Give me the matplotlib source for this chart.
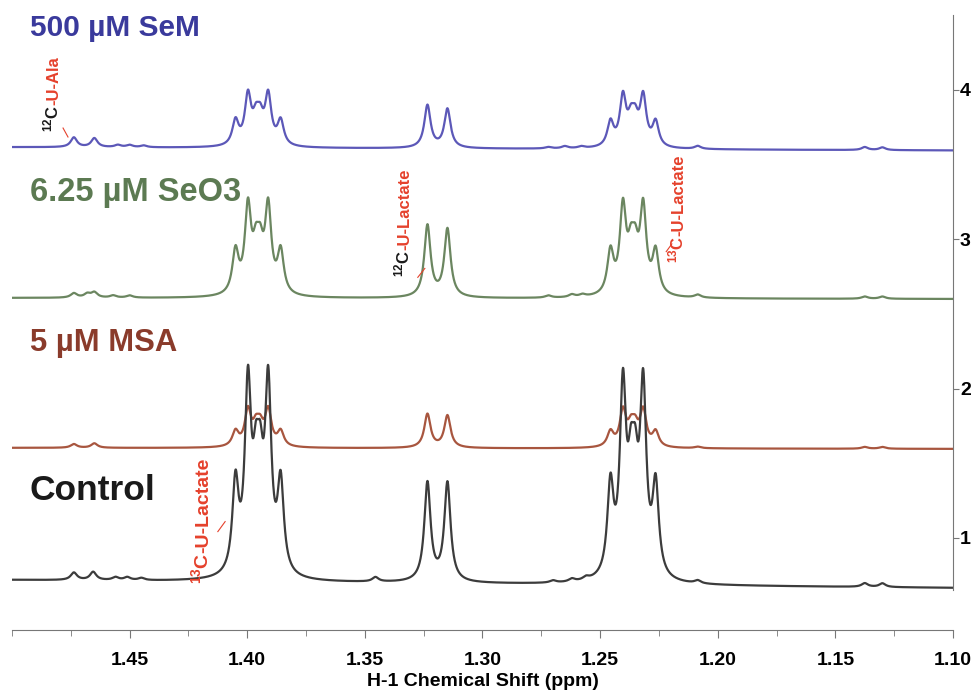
import numpy as np
import matplotlib.pyplot as plt
from matplotlib.ticker import MultipleLocator

plt.rcParams['font.family'] = ['Liberation Sans', 'DejaVu Sans']
plt.rcParams['mathtext.fontset'] = 'custom'
plt.rcParams['mathtext.bf'] = 'Liberation Sans:bold'
plt.rcParams['mathtext.rm'] = 'Liberation Sans:bold'
plt.rcParams['mathtext.default'] = 'bf'

# samples, bottom to top
samples = ['Control', '5 µM MSA', '6.25 µM SeO3', '500 µM SeM']
line_colors = ['#3c3c3c', '#a8563f', '#6b8660', '#5c58b8']
text_colors = ['#1a1a1a', '#8a3b2b', '#5c7a52', '#3a3a9c']
label_y = [1.32, 2.305, 3.31, 4.415]
label_size = [25.5, 22.3, 23.5, 21.5]

# baseline offset at the left (1.50 ppm) and right (1.10 ppm) edge
baseline_left = [0.718, 1.603, 2.607, 3.617]
baseline_right = [0.665, 1.596, 2.600, 3.595]

# 13C-lactate satellites: centres and line offsets (ppm)
multiplet_centres = [1.3954, 1.2360]
outer_offset = 0.0096
tall_offset = 0.0043
mid_offset = 0.0009
outer_amp = [0.60, 0.100, 0.285, 0.165]
tall_amp = [1.22, 0.235, 0.565, 0.325]
mid_amp = [0.50, 0.11, 0.235, 0.145]

# 12C-lactate doublet
doublet_ppm = [1.3234, 1.3149]
doublet_amp = [[0.66, 0.66], [0.225, 0.215], [0.48, 0.455], [0.285, 0.26]]

# small peaks (ppm, height)
small_peaks = [
    [(1.4737, 0.05), (1.4655, 0.055), (1.456, 0.02), (1.451, 0.02), (1.445, 0.015),
     (1.3455, 0.03), (1.270, 0.015), (1.262, 0.02), (1.256, 0.02), (1.2085, 0.02),
     (1.1375, 0.025), (1.130, 0.025)],
    [(1.4737, 0.025), (1.4650, 0.03), (1.2085, 0.01), (1.1375, 0.012), (1.130, 0.012)],
    [(1.4737, 0.03), (1.4680, 0.025), (1.4650, 0.035), (1.457, 0.015), (1.450, 0.015),
     (1.272, 0.015), (1.262, 0.018), (1.2575, 0.015), (1.2085, 0.02), (1.1375, 0.015),
     (1.130, 0.015)],
    [(1.4737, 0.065), (1.4650, 0.06), (1.455, 0.015), (1.450, 0.015), (1.444, 0.012),
     (1.272, 0.01), (1.265, 0.015), (1.258, 0.012), (1.2085, 0.02), (1.1375, 0.02),
     (1.130, 0.018)],
]
hwhm = 0.0016

ppm = np.linspace(1.50, 1.10, 5000)


def lorentz(pos, amp):
    return amp / (1 + ((ppm - pos) / hwhm) ** 2)


fig = plt.figure(figsize=(9.76, 6.92), dpi=100)
ax = fig.add_axes([0.0123, 0.0896, 0.9641, 0.8887])

for i in [3, 2, 1, 0]:
    y = baseline_left[i] + (baseline_right[i] - baseline_left[i]) * (1.50 - ppm) / 0.40
    for c in multiplet_centres:
        for off, amp in [(outer_offset, outer_amp[i]), (tall_offset, tall_amp[i]), (mid_offset, mid_amp[i])]:
            y = y + lorentz(c - off, amp) + lorentz(c + off, amp)
    for pos, amp in zip(doublet_ppm, doublet_amp[i]):
        y = y + lorentz(pos, amp)
    for pos, amp in small_peaks[i]:
        y = y + lorentz(pos, amp)
    ax.plot(ppm, y, color=line_colors[i], lw=1.6)
    ax.text(1.4925, label_y[i], samples[i], color=text_colors[i], fontsize=label_size[i],
            fontweight='bold', va='center', ha='left')

ax.set_xlim(1.50, 1.10)
ax.set_ylim(0.383, 4.502)

for s in ['left', 'top']:
    ax.spines[s].set_visible(False)
ax.spines['right'].set_bounds(0.651, 4.502)
ax.spines['right'].set_color('#777777')
ax.spines['bottom'].set_color('#777777')

ax.xaxis.set_minor_locator(MultipleLocator(0.025))
ax.set_xticks([1.45, 1.40, 1.35, 1.30, 1.25, 1.20, 1.15, 1.10])
ax.set_xticklabels(['1.45', '1.40', '1.35', '1.30', '1.25', '1.20', '1.15', '1.10'])
ax.yaxis.tick_right()
ax.set_yticks([1, 2, 3, 4])
ax.set_yticklabels(['1', '2', '3', '4'])
ax.tick_params(axis='x', which='major', length=6, color='#777777', labelsize=14, pad=10)
ax.tick_params(axis='x', which='minor', length=4, color='#777777')
ax.tick_params(axis='y', which='major', length=4, color='#777777', labelsize=14, pad=1)
for lab in ax.get_xticklabels() + ax.get_yticklabels():
    lab.set_fontweight('bold')
ax.set_xlabel('H-1 Chemical Shift (ppm)', fontsize=14, fontweight='bold', labelpad=3)

red = '#e5412c'


def stacked_label(x, y, parts, size=12):
    prev = ax.text(x, y, parts[0][0], color=parts[0][1], rotation=90, ha='right',
                   va='bottom', fontsize=size, fontweight='bold')
    for s, c in parts[1:]:
        prev = ax.annotate(s, xy=(1, 1), xycoords=prev, ha='right', va='bottom',
                           rotation=90, color=c, fontsize=size, fontweight='bold')


stacked_label(1.4790, 3.72, [(r'$^{12}$C', '#1a1a1a'), ('-U-Ala', red)], size=12)
ax.plot([1.4783, 1.4762], [3.745, 3.685], color=red, lw=0.8)

stacked_label(1.3300, 2.749, [(r'$^{12}$C', '#1a1a1a'), ('-U-Lactate', red)])
ax.plot([1.3275, 1.3245], [2.745, 2.805], color=red, lw=0.8)

stacked_label(1.2135, 2.841, [(r'$^{13}$C', red), ('-U-Lactate', red)])
ax.plot([1.2219, 1.2195], [2.917, 2.969], color=red, lw=0.8)

stacked_label(1.4150, 0.69, [(r'$^{13}$C', red), ('-U-Lactate', red)], size=14)
ax.plot([1.4125, 1.4094], [1.042, 1.109], color=red, lw=0.8)

fig.savefig('out.png', dpi=100)
